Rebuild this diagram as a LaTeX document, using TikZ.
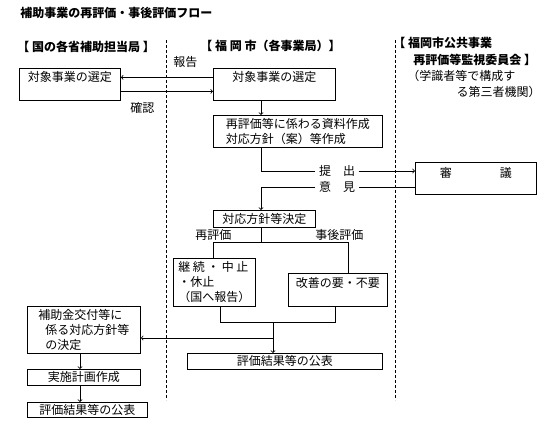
\documentclass[tikz,border=0pt]{standalone}
\usepackage{fontspec}
\setmainfont{Noto Sans CJK JP}
\begin{document}
\begin{tikzpicture}[x=1pt,y=-1pt,line width=0.8pt,font=\fontsize{12}{15}\selectfont,
  box/.style={draw,inner sep=0pt,anchor=north west},
  lbl/.style={inner sep=0pt,anchor=west},
  hdr/.style={inner sep=0pt,anchor=west,font=\fontsize{12}{15}\selectfont\bfseries}]
\useasboundingbox (0,0) rectangle (557,433);
% title and column heads
\node[hdr] (title) at (20,13) {補助事業の再評価・事後評価フロー};
\node[hdr] (hdrL) at (17,47) {【 国の各省補助担当局 】};
\node[hdr] (hdrC) at (200,46) {【 福 岡 市（各事業局）】};
\node[hdr] (hdrR1) at (393,43) {【 福岡市公共事業};
\node[hdr] (hdrR2) at (413,60) {再評価等監視委員会 】};
\node[lbl] (hdrR3) at (407,76) {（学識者等で構成す};
\node[lbl,anchor=east] (hdrR4) at (541,92) {る第三者機関）};
\draw[dash pattern=on 3pt off 2pt] (166,40) -- (166,400);
\draw[dash pattern=on 3pt off 2pt] (395,40) -- (395,400);
% boxes
\node[box,minimum width=101pt,text height=13.5pt,text depth=18.5pt] (selL) at (19,68) {対象事業の選定};
\node[box,minimum width=122pt,text height=13.5pt,text depth=18.5pt] (selC) at (213,68) {対象事業の選定};
\node[box,minimum width=169pt,minimum height=32pt,align=left] (prep) at (213,115) {再評価等に係わる資料作成\\対応方針（案）等作成};
\node[box,minimum width=121pt,text height=15.5pt,text depth=16.5pt] (shingi) at (415,162) {審\hspace{4em}議};
\node[box,minimum width=102pt,minimum height=17pt] (policy) at (213,210) {対応方針等決定};
\node[box,minimum width=82pt,minimum height=48pt,align=left] (cont) at (173,258) {継\hspace{2.5pt}続\hspace{2.5pt}・\hspace{2.5pt}中\hspace{2.5pt}止\\・休止\\（国へ報告）};
\node[box,minimum width=99pt,text height=14.5pt,text depth=18.5pt] (impr) at (288,273) {改善の要・不要};
\node[box,minimum width=195pt,minimum height=16pt] (pubC) at (187,353) {評価結果等の公表\hspace{29pt}};
\node[box,minimum width=113pt,minimum height=47pt,align=left] (subsidy) at (27,306) {補助金交付等に\\\hspace*{7pt}係る対応方針等\\\hspace*{7pt}の決定};
\node[box,minimum width=113pt,minimum height=16pt] (plan) at (27,369) {実施計画作成};
\node[box,minimum width=120pt,minimum height=15pt] (pubL) at (27,402) {評価結果等の公表};
% connectors
\coordinate (spine) at (261,0);
\coordinate (colL) at (80,0);
\draw[->] ([yshift=7pt]selC.west) -- ([yshift=7pt]selL.east);
\draw[->] ([yshift=-7pt]selL.east) -- ([yshift=-7pt]selC.west);
\node[lbl] (hokoku) at (173,62) {報告};
\node[lbl] (kakunin) at (130,108) {確認};
\draw[->] (selC.south -| spine) -- (prep.north -| spine);
\node (teishutsu) at (337,171) {提\hspace{1em}出};
\node (iken) at (337,187) {意\hspace{1em}見};
\draw (prep.south -| spine) |- (teishutsu.west);
\draw[->] (teishutsu.east) -- (shingi.west |- teishutsu);
\draw (shingi.west |- iken) -- (iken.east);
\draw[->] (iken.west) -| (policy.north -| spine);
\coordinate (brL) at (213,242);
\coordinate (brR) at (348,242);
\draw (policy.south -| spine) -- (spine |- brL);
\draw (brL |- cont.north) -- (brL) -- (brR) -- (brR |- impr.north);
\node[lbl] (saihyoka) at (195,235) {再評価};
\node[lbl] (jigo) at (315,235) {事後評価};
\coordinate (jnL) at (220,322);
\coordinate (jnR) at (335,322);
\coordinate (jn) at (273,322);
\coordinate (tap) at (273,338);
\draw (jnL |- cont.south) -- (jnL) -- (jnR) -- (jnR |- impr.south);
\draw[->] (jn) -- (jn |- pubC.north);
\draw[->] (tap) -- (subsidy.east |- tap);
\draw[->] (subsidy.south -| colL) -- (plan.north -| colL);
\draw[->] (plan.south -| colL) -- (pubL.north -| colL);
\end{tikzpicture}
\end{document}
